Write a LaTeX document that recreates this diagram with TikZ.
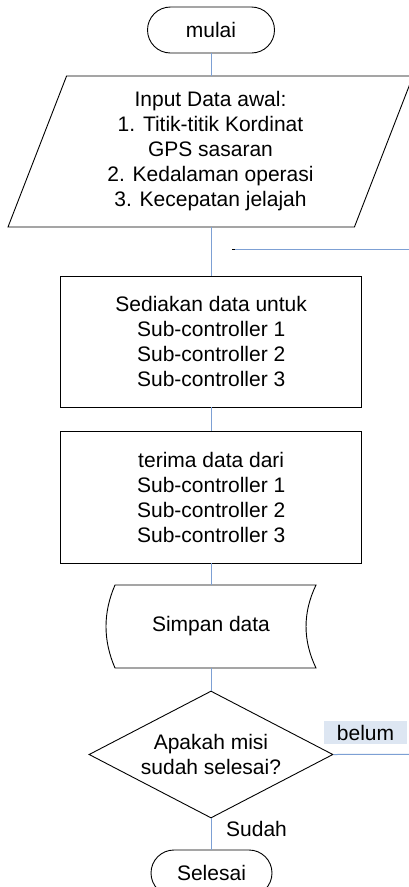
\documentclass[tikz,border=0pt]{standalone}
\usepackage{fontspec}
\setmainfont{Liberation Sans}
\usetikzlibrary{shapes.geometric,shapes.misc}
\definecolor{conn}{RGB}{125,160,212}
\definecolor{belumfill}{RGB}{221,230,242}
\begin{document}
\begin{tikzpicture}[x=1pt,y=-1pt,
  every node/.style={font=\fontsize{21}{25}\selectfont, inner sep=0pt},
  shapeline/.style={draw=black, line width=0.9pt},
  terminal/.style={shapeline, rounded rectangle, minimum width=127pt, minimum height=46pt},
  procbox/.style={shapeline, rectangle, minimum width=301pt, minimum height=131pt, align=center},
  iobox/.style={shapeline, trapezium, trapezium left angle=63.9, trapezium right angle=116.1, trapezium stretches body, minimum width=405pt, minimum height=151pt, align=center},
  decision/.style={shapeline, diamond, minimum width=244pt, minimum height=127pt},
  txt/.style={align=center},
  connector/.style={draw=conn, line width=1pt}
]
\useasboundingbox (0,0) rectangle (409,887);
\fill[white] (0,0) rectangle (409,887);
\clip (0,0) rectangle (409,887);

\node[terminal] (mulai) at (211,30) {mulai};
\node[iobox] (input) at (210.5,151.5) {Input Data awal:\\1. Titik-titik Kordinat\\GPS sasaran\\2. Kedalaman operasi\\3. Kecepatan jelajah};
\node[procbox] (prov) at (211.2,341.5) {Sediakan data untuk\\Sub-controller 1\\Sub-controller 2\\Sub-controller 3};
\node[procbox, minimum height=132pt] (recv) at (211.2,497) {terima data dari\\Sub-controller 1\\Sub-controller 2\\Sub-controller 3};
\node[minimum width=210pt, minimum height=83pt] (store) at (211,626.5) {Simpan data};
\draw[shapeline] (115,585) -- (316,585) .. controls (302.7,612.7) and (302.7,640.3) .. (316,668) -- (115,668) .. controls (103,640.3) and (103,612.7) .. (115,585) -- cycle;
\node[decision] (dec) at (211,754.5) {};
\node[txt] (dectxt) at (211,754.5) {Apakah misi\\sudah selesai?};
\node[terminal, minimum width=121pt] (end) at (211.5,873) {Selesai};
\node[fill=belumfill, minimum width=83pt, minimum height=23pt] (belum) at (365.5,732.5) {belum};
\node[anchor=west] (sudah) at (226,829) {Sudah};
\coordinate (loopend) at (409,754.3);
\coordinate (retstart) at (232,249);
\coordinate (retend) at (409,249);

\draw[connector] (mulai.south) -- (mulai.south |- input.north);
\draw[connector] (input.south -| prov.north) -- (prov.north);
\draw[connector] (prov.south) -- (recv.north);
\draw[connector] (recv.south) -- (recv.south |- store.north);
\draw[connector] (store.south) -- (dec.north);
\draw[connector] (dec.east) -- (loopend);
\draw[connector] (dec.south) -- (dec.south |- end.north);
\draw[black, line width=1pt] (retstart) -- ++(3,0);
\draw[connector] ([xshift=3pt]retstart) -- (retend);
\end{tikzpicture}
\end{document}
